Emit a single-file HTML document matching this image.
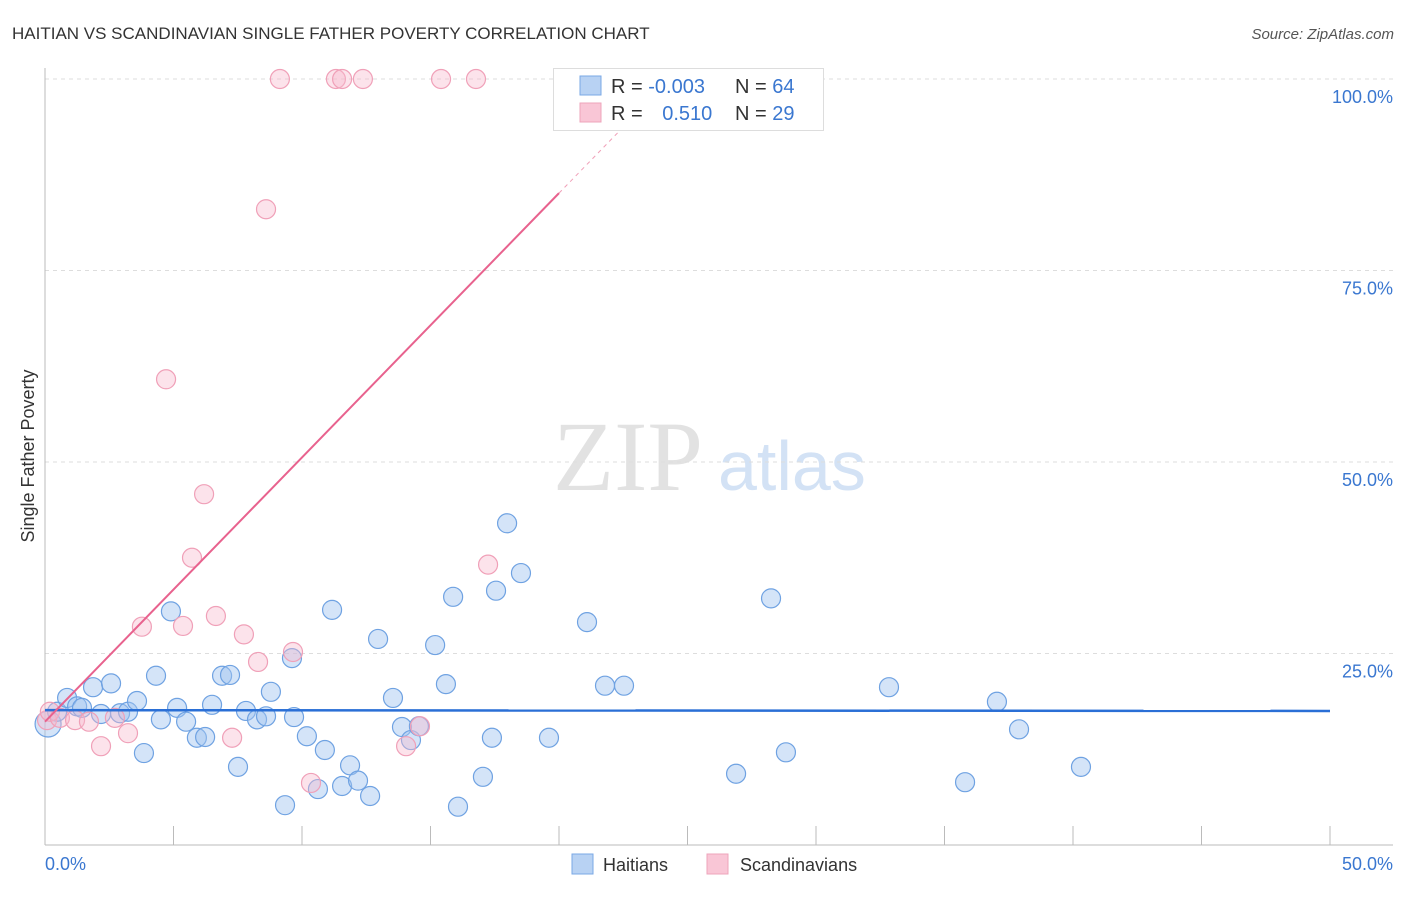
<!DOCTYPE html>
<html><head><meta charset="utf-8"><style>
body{margin:0;background:#fff;font-family:"Liberation Sans",sans-serif;}
</style></head><body>
<svg id="chart" width="1406" height="892" viewBox="0 0 1406 892" font-family="Liberation Sans, sans-serif">
<text x="12" y="39" font-size="17" fill="#333">HAITIAN VS SCANDINAVIAN SINGLE FATHER POVERTY CORRELATION CHART</text>
<text x="1394" y="39" font-size="15" fill="#555" font-style="italic" text-anchor="end">Source: ZipAtlas.com</text>
<text transform="translate(34,456) rotate(-90)" font-size="18" fill="#333" text-anchor="middle">Single Father Poverty</text>
<g>
<text x="553" y="490" font-size="100" style="font-family:'Liberation Serif',serif" fill="#e2e2e2">ZIP</text>
<text x="718" y="490" font-size="70" fill="#d3e2f5">atlas</text>
</g>
<g id="grid"></g><g id="axes"></g><g id="marks"></g>
<g>
<rect x="553.5" y="68.5" width="270" height="62" fill="#fff" stroke="#ddd"/>
<rect x="580" y="76" width="21" height="19" fill="#b8d2f3" stroke="#7aa8e6"/>
<rect x="580" y="103" width="21" height="19" fill="#f9c6d6" stroke="#eea4bb"/>
<text x="611" y="93" font-size="20" fill="#333">R = <tspan fill="#3a77d0">-0.003</tspan></text>
<text x="735" y="93" font-size="20" fill="#333">N = <tspan fill="#3a77d0">64</tspan></text>
<text x="611" y="120" font-size="20" fill="#333">R = <tspan fill="#3a77d0" dx="14">0.510</tspan></text>
<text x="735" y="120" font-size="20" fill="#333">N = <tspan fill="#3a77d0">29</tspan></text>
</g>
<g>
<rect x="572" y="854" width="21" height="20" fill="#b8d2f3" stroke="#7aa8e6"/>
<text x="603" y="871" font-size="18" fill="#333">Haitians</text>
<rect x="707" y="854" width="21" height="20" fill="#f9c6d6" stroke="#eea4bb"/>
<text x="740" y="871" font-size="18" fill="#333">Scandinavians</text>
</g>
</svg>
<script>
const yTicks=[25,50,75,100];
const yTickLabels=["25.0%","50.0%","75.0%","100.0%"];
const xTickLabels=["0.0%","50.0%"];
const haitiansX=[0.12,0.47,0.86,1.25,1.44,1.87,2.18,2.57,2.92,3.23,3.58,3.85,4.32,4.51,4.90,5.14,5.49,5.91,6.23,6.50,6.89,7.20,7.51,7.82,8.25,8.60,8.79,9.34,9.61,9.69,10.19,10.62,10.89,11.17,11.56,11.87,12.18,12.65,12.96,13.54,13.89,14.24,14.55,15.18,15.60,15.88,16.07,17.04,17.39,17.55,17.98,18.52,19.61,21.09,21.79,22.53,26.89,28.25,28.83,32.84,35.80,37.04,37.90,40.31];
const haitiansY=[15.8,17.4,19.2,18.1,17.9,20.6,17.1,21.1,17.2,17.4,18.8,12.0,22.1,16.4,30.5,17.9,16.1,14.0,14.1,18.3,22.1,22.2,10.2,17.5,16.4,16.8,20.0,5.2,24.4,16.7,14.2,7.3,12.4,30.7,7.7,10.4,8.4,6.4,26.9,19.2,15.4,13.7,15.5,26.1,21.0,32.4,5.0,8.9,14.0,33.2,42.0,35.5,14.0,29.1,20.8,20.8,9.3,32.2,12.1,20.6,8.2,18.7,15.1,10.2];
const scandX=[0.08,0.19,0.58,1.17,1.71,2.18,2.72,3.23,3.77,4.71,5.37,5.72,6.19,6.65,7.28,7.74,8.29,8.60,9.14,9.65,10.35,11.32,11.56,12.37,14.05,14.59,15.41,16.77,17.24];
const scandY=[16.3,17.4,16.6,16.3,16.1,12.9,16.6,14.6,28.5,60.8,28.6,37.5,45.8,29.9,14.0,27.5,23.9,83.0,100,25.2,8.1,100,100,100,12.9,15.5,100,100,36.6];
const blueTrend=[17.6,17.5];
const pinkTrend=[16.1,3.45];
const NS='http://www.w3.org/2000/svg';
const X0=45,X1=1330,Y0=845,Y100=79;
const sx=v=>X0+(X1-X0)*v/50, sy=v=>Y0-(Y0-Y100)*v/100;
function mk(tag,attrs,parent){const e=document.createElementNS(NS,tag);for(const k in attrs)e.setAttribute(k,attrs[k]);parent.appendChild(e);return e;}
const grid=document.getElementById('grid'),axes=document.getElementById('axes'),marks=document.getElementById('marks');
yTicks.forEach((t,i)=>{
 const l=mk('line',{x1:X0,x2:1393,y1:sy(t),y2:sy(t),stroke:'#ddd','stroke-dasharray':'4,4'},grid);
 
 
 const tx=mk('text',{x:1393,y:sy(t)+24,'font-size':18,fill:'#3a77d0','text-anchor':'end'},axes);
 tx.textContent=yTickLabels[i];
 
 
});
const la=mk('line',{x1:X0,x2:X0,y1:68,y2:Y0,stroke:'#bbb'},axes);


const ba=mk('line',{x1:X0,x2:1393,y1:Y0,y2:Y0,stroke:'#bbb'},axes);


for(let v=0;v<=50;v+=5){
 const t=mk('line',{x1:sx(v),x2:sx(v),y1:826,y2:Y0,stroke:'#bbb'},axes);
 
 
}
[[0,'start',45],[50,'end',1393]].forEach((a,i)=>{
 const tx=mk('text',{x:a[2],y:870,'font-size':18,fill:'#3a77d0','text-anchor':a[1]},axes);
 tx.textContent=xTickLabels[i];
 
 
});
haitiansX.forEach((x,i)=>{
 const c=mk('circle',{cx:sx(x),cy:sy(haitiansY[i]),r:i===0?13:9.5,fill:'rgba(160,196,240,0.45)',stroke:'#6fa2e2','stroke-width':1.2},marks);
 
 
});
scandX.forEach((x,i)=>{
 const c=mk('circle',{cx:sx(x),cy:sy(scandY[i]),r:9.5,fill:'rgba(248,184,204,0.4)',stroke:'#f0a0b8','stroke-width':1.2},marks);
 
 
});
const bt=mk('line',{x1:sx(0),x2:sx(50),y1:sy(blueTrend[0]),y2:sy(blueTrend[1]),stroke:'#2a6fd6','stroke-width':2.5},marks);


const pt=mk('line',{x1:sx(0),x2:sx(20),y1:sy(pinkTrend[0]),y2:sy(pinkTrend[0]+pinkTrend[1]*20),stroke:'#e8628e','stroke-width':2},marks);


const pd=mk('line',{x1:sx(20),x2:sx(22.6),y1:sy(pinkTrend[0]+pinkTrend[1]*20),y2:sy(pinkTrend[0]+pinkTrend[1]*22.6),stroke:'#f0a0b8','stroke-width':1,'stroke-dasharray':'4,4'},marks);


</script>
</body></html>
